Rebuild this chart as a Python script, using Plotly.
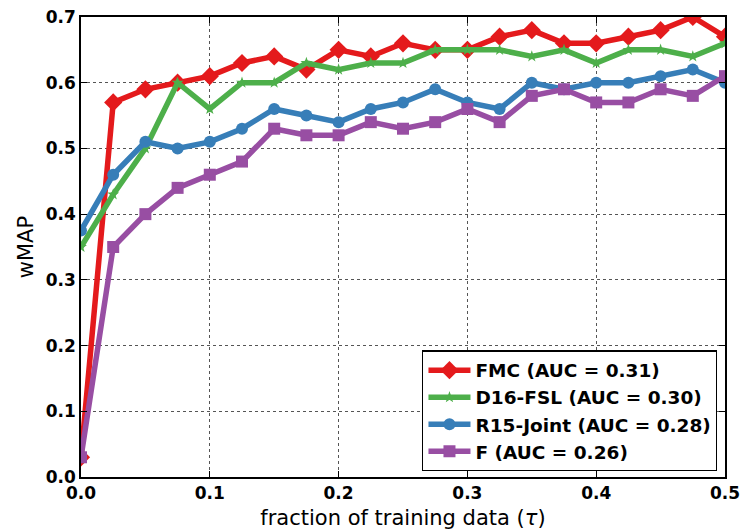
import plotly.graph_objects as go

x_vals = [0.0, 0.025, 0.05, 0.075, 0.1, 0.125, 0.15, 0.175, 0.2, 0.225, 0.25,
          0.275, 0.3, 0.325, 0.35, 0.375, 0.4, 0.425, 0.45, 0.475, 0.5]

fmc = [0.03, 0.57, 0.59, 0.60, 0.61, 0.63, 0.64, 0.62, 0.65, 0.64, 0.66,
       0.65, 0.65, 0.67, 0.68, 0.66, 0.66, 0.67, 0.68, 0.70, 0.67]
d16 = [0.35, 0.43, 0.50, 0.60, 0.56, 0.60, 0.60, 0.63, 0.62, 0.63, 0.63,
       0.65, 0.65, 0.65, 0.64, 0.65, 0.63, 0.65, 0.65, 0.64, 0.66]
r15 = [0.375, 0.46, 0.51, 0.50, 0.51, 0.53, 0.56, 0.55, 0.54, 0.56, 0.57,
       0.59, 0.57, 0.56, 0.60, 0.59, 0.60, 0.60, 0.61, 0.62, 0.60]
f_base = [0.03, 0.35, 0.40, 0.44, 0.46, 0.48, 0.53, 0.52, 0.52, 0.54, 0.53,
          0.54, 0.56, 0.54, 0.58, 0.59, 0.57, 0.57, 0.59, 0.58, 0.61]

names = ["FMC (AUC = 0.31)", "D16-FSL (AUC = 0.30)", "R15-Joint (AUC = 0.28)", "F (AUC = 0.26)"]
series = [fmc, d16, r15, f_base]
colors = ["#e41a1c", "#4daf4a", "#377eb8", "#984ea3"]
symbols = ["diamond", "star", "circle", "square"]
msizes = [14, 9, 12, 12]

fig = go.Figure()
for name, ys, c, s, ms in zip(names, series, colors, symbols, msizes):
    fig.add_trace(go.Scatter(
        x=x_vals, y=ys, mode="lines+markers", name=name,
        line=dict(color=c, width=5.5),
        marker=dict(symbol=s, size=ms, color=c, line=dict(width=0)),
    ))

font_family = "DejaVu Sans"
fig.update_layout(
    width=742, height=531,
    margin=dict(l=81, r=17, t=17, b=54),
    paper_bgcolor="white", plot_bgcolor="white",
    font=dict(family=font_family, color="black"),
    showlegend=True,
    legend=dict(
        x=0.988, y=0.012, xanchor="right", yanchor="bottom",
        bordercolor="black", borderwidth=1.2, bgcolor="white",
        font=dict(family=font_family, size=18.5, weight="bold", color="black"),
        itemwidth=42, tracegroupgap=0,
    ),
)
fig.update_xaxes(
    range=[0, 0.5], tickvals=[0, 0.1, 0.2, 0.3, 0.4, 0.5],
    ticktext=["0.0", "0.1", "0.2", "0.3", "0.4", "0.5"],
    showgrid=True, gridcolor="#555555", griddash="dot", gridwidth=1,
    showline=True, linecolor="black", linewidth=1.5, mirror="ticks",
    ticks="inside", ticklen=6, tickcolor="black",
    tickfont=dict(family=font_family, size=17, weight="bold"),
    zeroline=False, automargin=False,
    title=dict(text="fraction of training data (<i>τ</i>)", font=dict(family=font_family, size=21), standoff=8),
)
fig.update_yaxes(
    range=[0, 0.7], tickvals=[0, 0.1, 0.2, 0.3, 0.4, 0.5, 0.6, 0.7],
    ticktext=["0.0", "0.1", "0.2", "0.3", "0.4", "0.5", "0.6", "0.7"],
    showgrid=True, gridcolor="#555555", griddash="dot", gridwidth=1,
    showline=True, linecolor="black", linewidth=1.5, mirror="ticks",
    ticks="inside", ticklen=6, tickcolor="black",
    tickfont=dict(family=font_family, size=17, weight="bold"),
    zeroline=False, automargin=False,
    title=dict(text="wMAP", font=dict(family=font_family, size=21), standoff=6),
)

fig.write_html("out.html")
